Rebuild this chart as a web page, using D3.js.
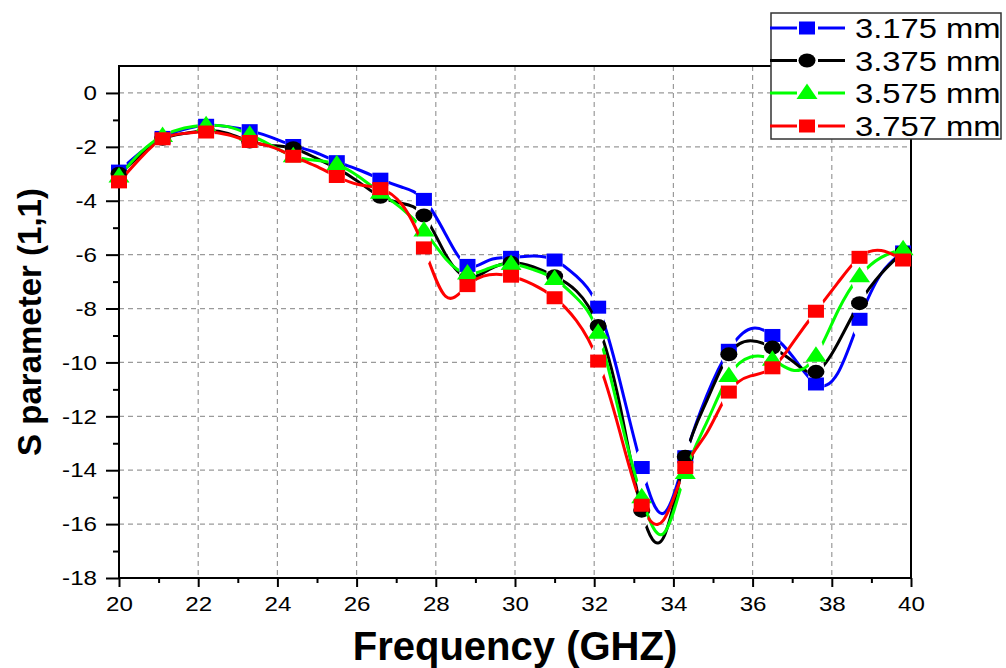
<!DOCTYPE html>
<html><head><meta charset="utf-8">
<script src="https://cdn.jsdelivr.net/npm/d3@7"></script>
<style>
body{margin:0;background:#fff;}
svg{display:block;font-family:Arial,"Liberation Sans",sans-serif;}
</style>
</head><body>
<svg id="chart" width="1006" height="668"></svg>
<script>
// ---- data ----
// frequencies that carry a marker
const freq   = [20, 21.1, 22.2, 23.3, 24.4, 25.5, 26.6, 27.7, 28.8, 29.9, 31.0, 32.1, 33.2, 34.3, 35.4, 36.5, 37.6, 38.7, 39.8];
const s3175  = [-2.9, -1.65, -1.2, -1.4, -1.95, -2.55, -3.2, -3.95, -6.4, -6.1, -6.2, -7.95, -13.9, -13.5, -9.55, -9.0, -10.8, -8.4, -5.9];
const s3375  = [-3.0, -1.7, -1.4, -1.8, -2.05, -2.8, -3.85, -4.55, -6.85, -6.3, -6.8, -8.65, -15.5, -13.5, -9.7, -9.45, -10.35, -7.8, -5.9];
const s3575  = [-3.1, -1.6, -1.2, -1.55, -2.35, -2.65, -3.7, -5.1, -6.7, -6.35, -6.9, -8.9, -15.0, -14.1, -10.5, -9.9, -9.75, -6.8, -5.8];
const s3757  = [-3.3, -1.7, -1.45, -1.8, -2.35, -3.1, -3.55, -5.75, -7.15, -6.8, -7.6, -9.95, -15.3, -13.9, -11.1, -10.2, -8.1, -6.1, -6.2];
// curve values read between the markers (no marker drawn there)
const midFreq = [20.55, 21.65, 22.75, 23.85, 24.95, 26.05, 27.15, 28.25, 29.35, 30.45, 31.55, 32.65, 33.75, 34.85, 35.95, 37.05, 38.15, 39.25];
const m3175  = [-2.2, -1.35, -1.25, -1.65, -2.2, -2.85, -3.5, -5.25, -6.2, -6.05, -6.8, -10.7, -15.6, -11.2, -8.75, -9.85, -10.4, -6.7];
const m3375  = [-2.3, -1.5, -1.5, -1.95, -2.4, -3.3, -4.1, -6.0, -6.55, -6.45, -7.35, -11.6, -16.5, -11.4, -9.2, -10.0, -9.3, -6.7];
const m3575  = [-2.2, -1.3, -1.25, -1.95, -2.5, -3.1, -4.3, -6.15, -6.5, -6.55, -7.6, -12.0, -16.35, -12.2, -9.8, -10.3, -8.1, -6.1];
const m3757  = [-2.4, -1.5, -1.55, -2.0, -2.7, -3.4, -4.15, -7.55, -6.75, -7.1, -8.45, -12.6, -15.85, -12.6, -10.5, -9.2, -7.05, -5.85];
const seriesNames  = ["3.175 mm", "3.375 mm", "3.575 mm", "3.757 mm"];
const seriesValues = [s3175, s3375, s3575, s3757];
const seriesMid    = [m3175, m3375, m3575, m3757];
const xTicks      = [20, 22, 24, 26, 28, 30, 32, 34, 36, 38, 40];
const xMinorTicks = [21, 23, 25, 27, 29, 31, 33, 35, 37, 39];
const yTicks      = [0, -2, -4, -6, -8, -10, -12, -14, -16, -18];
const yMinorTicks = [-1, -3, -5, -7, -9, -11, -13, -15, -17];
const xTitle = "Frequency (GHZ)";
const yTitle = "S parameter (1,1)";

// ---- styles ----
const colors  = ["#0000ff", "#000000", "#00ff00", "#ff0000"];
const symbols = ["square", "circle", "triangle", "square"];

const svg = d3.select("#chart");
const L = 119, R = 911, T = 66, B = 578;
const x = d3.scaleLinear().domain([20, 40]).range([L, R]);
const y = d3.scaleLinear().domain([-18, 1]).range([B, T]);

// grid
const grid = svg.append("g").attr("stroke", "#9a9a9a").attr("stroke-width", 1.2).attr("stroke-dasharray", "5,4");
grid.selectAll(".vg").data(xTicks.slice(1, -1)).enter().append("line")
  .attr("x1", d => x(d)).attr("x2", d => x(d)).attr("y1", T).attr("y2", B);
grid.selectAll(".hg").data(yTicks.slice(0, -1)).enter().append("line")
  .attr("y1", d => y(d)).attr("y2", d => y(d)).attr("x1", L).attr("x2", R);

// axes
const fmt = d => String(d);
const xAxis = svg.append("g").attr("transform", `translate(0,${B})`)
  .call(d3.axisBottom(x).tickValues(xTicks).tickSize(9).tickPadding(9).tickSizeOuter(0).tickFormat(fmt));
const xMinor = svg.append("g").attr("transform", `translate(0,${B})`)
  .call(d3.axisBottom(x).tickValues(xMinorTicks).tickSize(5).tickSizeOuter(0).tickFormat(""));
const yAxis = svg.append("g").attr("transform", `translate(${L},0)`)
  .call(d3.axisLeft(y).tickValues(yTicks).tickSize(13).tickPadding(9).tickSizeOuter(0).tickFormat(fmt));
const yMinor = svg.append("g").attr("transform", `translate(${L},0)`)
  .call(d3.axisLeft(y).tickValues(yMinorTicks).tickSize(6).tickSizeOuter(0).tickFormat(""));
[xAxis, xMinor, yAxis, yMinor].forEach(g => {
  g.select(".domain").remove();
  g.selectAll(".tick line").attr("stroke", "#000").attr("stroke-width", 2);
});
xAxis.selectAll(".tick text").attr("font-size", 21).attr("fill", "#000")
  .attr("transform", "scale(1.15,1)");
yAxis.selectAll(".tick text").attr("font-size", 21).attr("fill", "#000")
  .attr("x", -22 / 1.15).attr("transform", "scale(1.15,1)");

// frame
svg.append("rect").attr("x", L).attr("y", T).attr("width", R - L).attr("height", B - T)
  .attr("fill", "none").attr("stroke", "#000").attr("stroke-width", 2);

// symbol drawing
function drawSymbol(g, type, color) {
  if (type === "square") {
    g.append("rect").attr("x", -8).attr("y", -6.5).attr("width", 16).attr("height", 13).attr("fill", color);
  } else if (type === "circle") {
    g.append("ellipse").attr("rx", 8.5).attr("ry", 7).attr("fill", color);
  } else {
    g.append("path").attr("d", "M0,-9.5L10.5,6L-10.5,6Z").attr("fill", color);
  }
}

// masks (gap to symbol)
const defs = svg.append("defs");
seriesValues.forEach((vals, i) => {
  const m = defs.append("mask").attr("id", "gap" + i).attr("maskUnits", "userSpaceOnUse")
    .attr("x", 0).attr("y", 0).attr("width", 1006).attr("height", 668);
  m.append("rect").attr("width", 1006).attr("height", 668).attr("fill", "#fff");
  m.selectAll("ellipse").data(freq).enter().append("ellipse")
    .attr("cx", d => x(d)).attr("cy", (d, j) => y(vals[j])).attr("rx", 8.5).attr("ry", 18).attr("fill", "#000");
});

// series
const line = d3.line().x(d => x(d[0])).y(d => y(d[1])).curve(d3.curveNatural);
seriesValues.forEach((vals, i) => {
  const pts = freq.map((f, j) => [f, vals[j]]);
  const curvePts = pts.concat(midFreq.map((f, j) => [f, seriesMid[i][j]]))
    .sort((a, b) => a[0] - b[0]);
  const g = svg.append("g");
  g.append("path").datum(curvePts).attr("d", line).attr("fill", "none")
    .attr("stroke", colors[i]).attr("stroke-width", 3).attr("mask", `url(#gap${i})`);
  pts.forEach(p => {
    const s = g.append("g").attr("transform", `translate(${x(p[0])},${y(p[1])})`);
    drawSymbol(s, symbols[i], colors[i]);
  });
});

// legend
const lg = svg.append("g");
lg.append("rect").attr("x", 771).attr("y", 13).attr("width", 230).attr("height", 126)
  .attr("fill", "#fff").attr("stroke", "#333").attr("stroke-width", 1.5);
const legendY = [28, 60.5, 93, 126];
seriesNames.forEach((name, i) => {
  const row = lg.append("g").attr("transform", `translate(0,${legendY[i]})`);
  row.append("line").attr("x1", 770).attr("x2", 797).attr("stroke", colors[i]).attr("stroke-width", 3);
  row.append("line").attr("x1", 818).attr("x2", 845).attr("stroke", colors[i]).attr("stroke-width", 3);
  const s = row.append("g").attr("transform", "translate(807,0)");
  drawSymbol(s, symbols[i], colors[i]);
  row.append("text").attr("transform", "translate(855,10) scale(1.17,1)")
    .attr("font-size", 28).attr("fill", "#000").text(name);
});

// titles
svg.append("text").attr("x", (L + R) / 2).attr("y", 660).attr("text-anchor", "middle")
  .attr("font-size", 40).attr("font-weight", "bold").attr("fill", "#000").text(xTitle);
svg.append("text").attr("transform", `translate(41,${(T + B) / 2}) rotate(-90)`).attr("text-anchor", "middle")
  .attr("font-size", 33).attr("font-weight", "bold").attr("fill", "#000").text(yTitle);
</script>
</body></html>
